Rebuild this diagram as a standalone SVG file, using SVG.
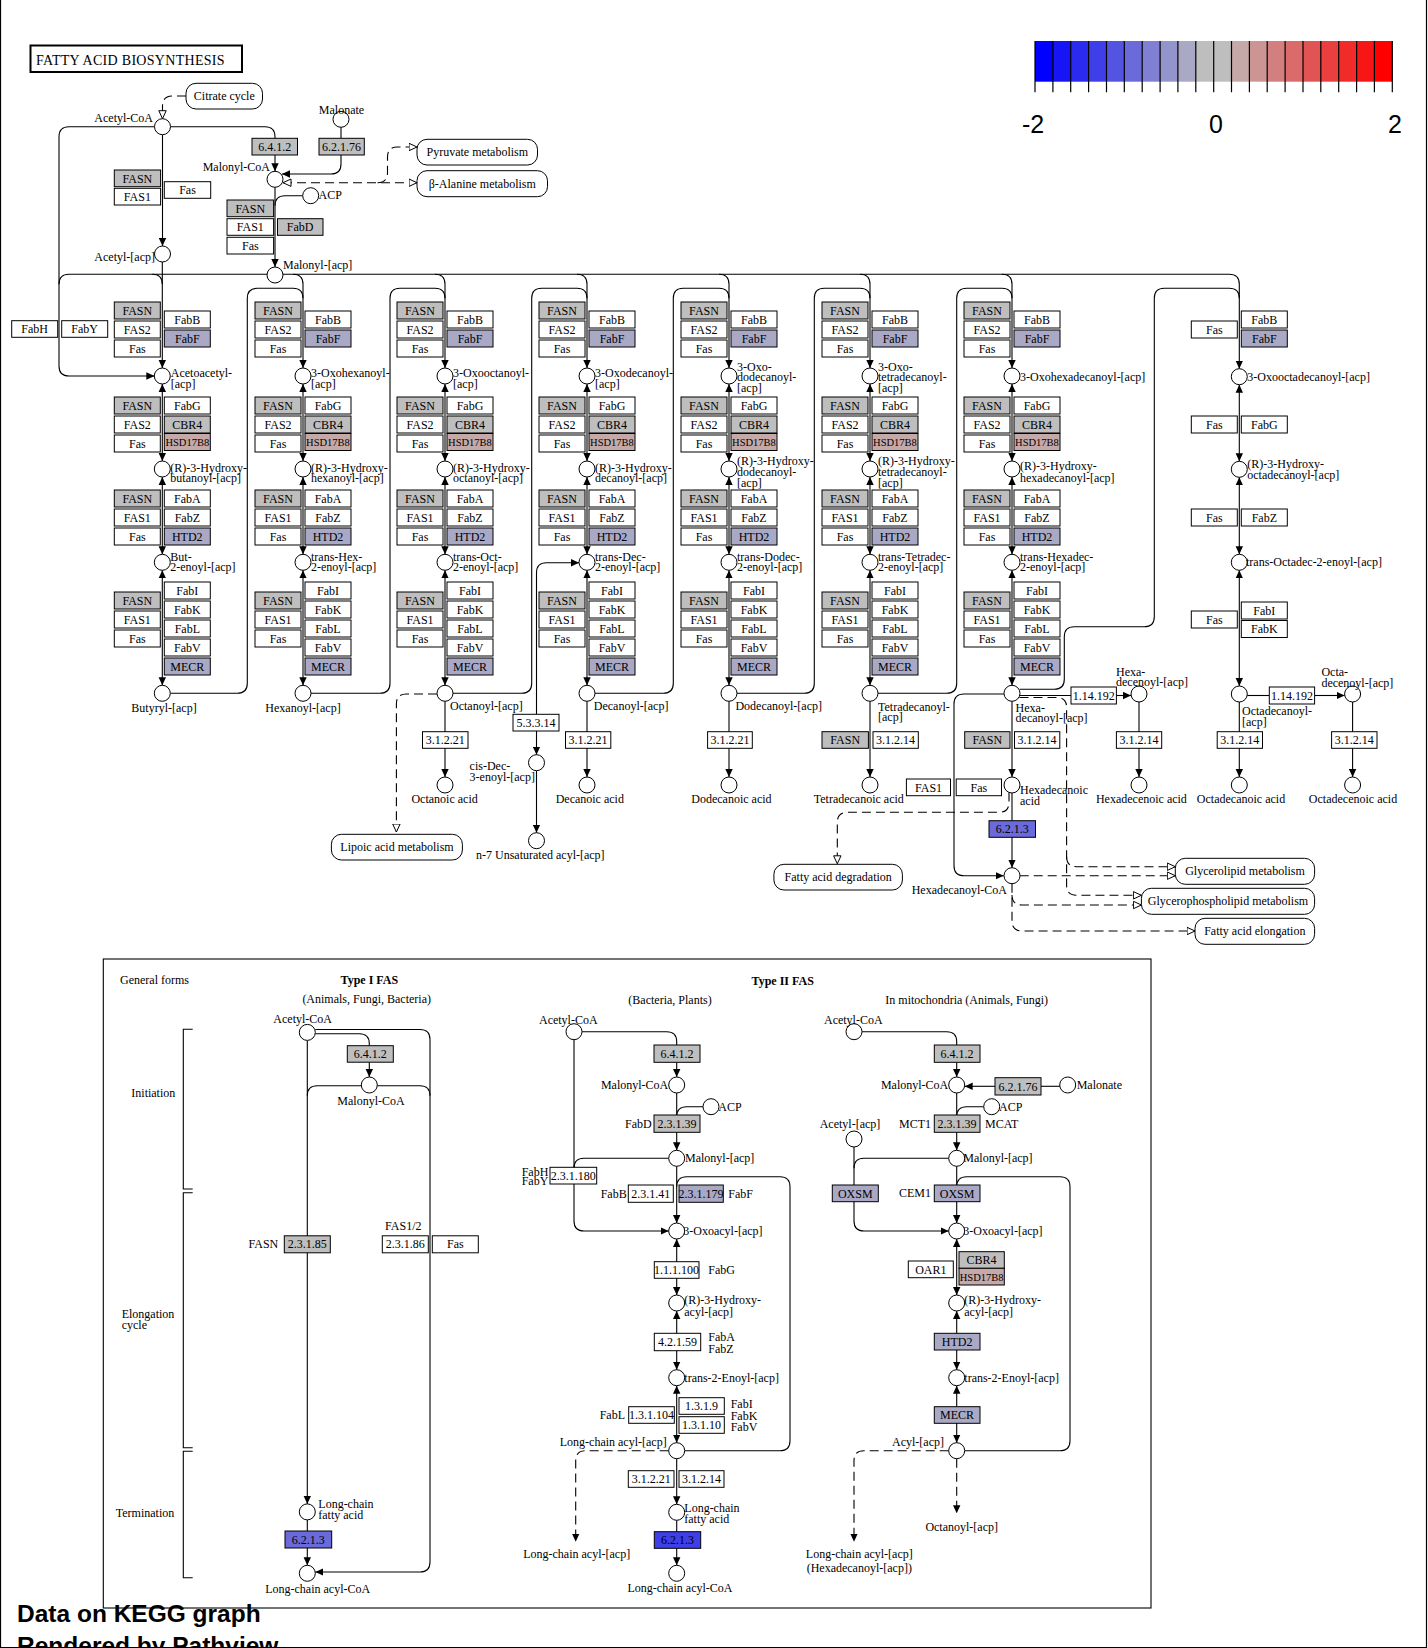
<svg xmlns="http://www.w3.org/2000/svg" width="1428" height="1648" viewBox="0 0 1428 1648">
<style>
.ln{fill:none;stroke:#000;stroke-width:1.1}
.ds{fill:none;stroke:#000;stroke-width:1.1;stroke-dasharray:9,5}
.cp{fill:#fff;stroke:#000;stroke-width:1}
.gw{fill:#fff;stroke:#000;stroke-width:1}
.gg{fill:#bebebe;stroke:#000;stroke-width:1}
.gl{fill:#a9a9c5;stroke:#000;stroke-width:1}
.gp{fill:#c5a9a9;stroke:#000;stroke-width:1}
.gb{fill:#6a6adb;stroke:#000;stroke-width:1}
.gB{fill:#3f3fe9;stroke:#000;stroke-width:1}
.mp{fill:#fff;stroke:#000;stroke-width:1}
text{font-family:"Liberation Serif","Times New Roman",serif;font-size:12px;fill:#000}
.m{text-anchor:middle}
.e{text-anchor:end}
.b{font-weight:bold}
.hs{font-size:10.5px}
.lg{font-family:"Liberation Sans",Arial,sans-serif;font-size:25px}
.ft{font-family:"Liberation Sans",Arial,sans-serif;font-size:24.5px;font-weight:bold}
</style>
<defs>
<marker id="ar" viewBox="0 0 8 8" refX="8" refY="4" markerWidth="8" markerHeight="8" markerUnits="userSpaceOnUse" orient="auto-start-reverse"><path d="M0,0.3 L8,4 L0,7.7z" fill="#000" stroke="none"/></marker>
<marker id="op" viewBox="0 0 9 9" refX="8.5" refY="4.5" markerWidth="9" markerHeight="9" markerUnits="userSpaceOnUse" orient="auto-start-reverse"><path d="M0.5,0.8 L8.5,4.5 L0.5,8.2z" fill="#fff" stroke="#000" stroke-width="1" stroke-dasharray="none"/></marker>
</defs>
<rect width="1428" height="1648" fill="#fff"/>
<path d="M0.5,0 V1647.5 H1426.5 V0" fill="none" stroke="#000" stroke-width="1.2"/>

<g id="legend">
<rect x="1035" y="41" width="18" height="40.7" fill="#0000FF"/>
<rect x="1052.9" y="41" width="18" height="40.7" fill="#1515F8"/>
<rect x="1070.7" y="41" width="18" height="40.7" fill="#2A2AF1"/>
<rect x="1088.6" y="41" width="18" height="40.7" fill="#3F3FE9"/>
<rect x="1106.5" y="41" width="18" height="40.7" fill="#5454E2"/>
<rect x="1124.3" y="41" width="18" height="40.7" fill="#6A6ADB"/>
<rect x="1142.2" y="41" width="18" height="40.7" fill="#7F7FD4"/>
<rect x="1160.1" y="41" width="18" height="40.7" fill="#9494CD"/>
<rect x="1177.9" y="41" width="18" height="40.7" fill="#A9A9C5"/>
<rect x="1195.8" y="41" width="18" height="40.7" fill="#BEBEBE"/>
<rect x="1213.7" y="41" width="18" height="40.7" fill="#BEBEBE"/>
<rect x="1231.5" y="41" width="18" height="40.7" fill="#C5A9A9"/>
<rect x="1249.4" y="41" width="18" height="40.7" fill="#CD9494"/>
<rect x="1267.2" y="41" width="18" height="40.7" fill="#D47F7F"/>
<rect x="1285.1" y="41" width="18" height="40.7" fill="#DB6A6A"/>
<rect x="1303" y="41" width="18" height="40.7" fill="#E25454"/>
<rect x="1320.8" y="41" width="18" height="40.7" fill="#E93F3F"/>
<rect x="1338.7" y="41" width="18" height="40.7" fill="#F12A2A"/>
<rect x="1356.6" y="41" width="18" height="40.7" fill="#F81515"/>
<rect x="1374.4" y="41" width="17.9" height="40.7" fill="#FF0000"/>
<path stroke="#000" stroke-width="1.2" d="M1035,41V92.3M1052.9,41V92.3M1070.7,41V92.3M1088.6,41V92.3M1106.5,41V92.3M1124.3,41V92.3M1142.2,41V92.3M1160.1,41V92.3M1177.9,41V92.3M1195.8,41V92.3M1213.7,41V92.3M1231.5,41V92.3M1249.4,41V92.3M1267.2,41V92.3M1285.1,41V92.3M1303,41V92.3M1320.8,41V92.3M1338.7,41V92.3M1356.6,41V92.3M1374.4,41V92.3M1392.3,41V92.3"/>
<text class="lg m" x="1033" y="133">-2</text>
<text class="lg m" x="1216" y="133">0</text>
<text class="lg m" x="1395" y="133">2</text>
</g>

<g id="title"><rect x="30.5" y="45.5" width="211.5" height="26.5" fill="#fff" stroke="#000" stroke-width="2"/><text x="36" y="64.5" style="font-size:14px;letter-spacing:0.3px">FATTY ACID BIOSYNTHESIS</text></g>

<g id="connectors">
<path class="ds" d="M186,96 H172.5 Q162.5,96 162.5,106 V118.7" marker-end="url(#op)"/>
<path class="ln" d="M162.5,134.7 V246" marker-end="url(#ar)"/>
<path class="ln" d="M154.5,126.7 H69 Q59,126.7 59,136.7 V366 Q59,376 69,376 H154.3" marker-end="url(#ar)"/>
<path class="ln" d="M170.5,126.7 H265 Q275,126.7 275,136.7 V138.3"/>
<path class="ln" d="M275,155 V171.3" marker-end="url(#ar)"/>
<path class="ln" d="M275,187.3 V267" marker-end="url(#ar)"/>
<path class="ln" d="M302.7,195.7 H285 Q275,195.7 275,205.7"/>
<path class="ln" d="M341,127.3 V138.3"/>
<path class="ln" d="M341,155 V164 Q341,174 331,174 H282" marker-end="url(#ar)"/>
<path class="ds" d="M283,182.7 H417" marker-start="url(#op)" marker-end="url(#op)"/>
<path class="ds" d="M377.5,182.7 Q387.5,182.7 387.5,172.7 V157 Q387.5,147 397.5,147 H417" marker-end="url(#op)"/>
<path class="ln" d="M59,284.3 Q59,274.3 69,274.3 H1229.3 Q1239.3,274.3 1239.3,284.3 V368.7" marker-end="url(#ar)"/>
<path class="ln" d="M162.3,262 V368" marker-end="url(#ar)"/>
<path class="ln" d="M152.3,274.3 Q162.3,274.3 162.3,284.3"/>
<path class="ln" d="M293,274.3 Q303,274.3 303,284.3 V368" marker-end="url(#ar)"/>
<path class="ln" d="M435,274.3 Q445,274.3 445,284.3 V368" marker-end="url(#ar)"/>
<path class="ln" d="M577,274.3 Q587,274.3 587,284.3 V368" marker-end="url(#ar)"/>
<path class="ln" d="M719,274.3 Q729,274.3 729,284.3 V368" marker-end="url(#ar)"/>
<path class="ln" d="M860,274.3 Q870,274.3 870,284.3 V368" marker-end="url(#ar)"/>
<path class="ln" d="M1002,274.3 Q1012,274.3 1012,284.3 V368" marker-end="url(#ar)"/>
<path class="ln" d="M162.3,384 V461" marker-start="url(#ar)" marker-end="url(#ar)"/>
<path class="ln" d="M162.3,477 V554.3" marker-start="url(#ar)" marker-end="url(#ar)"/>
<path class="ln" d="M162.3,570.3 V685.3" marker-start="url(#ar)" marker-end="url(#ar)"/>
<path class="ln" d="M303,384 V461" marker-start="url(#ar)" marker-end="url(#ar)"/>
<path class="ln" d="M303,477 V554.3" marker-start="url(#ar)" marker-end="url(#ar)"/>
<path class="ln" d="M303,570.3 V685.3" marker-start="url(#ar)" marker-end="url(#ar)"/>
<path class="ln" d="M445,384 V461" marker-start="url(#ar)" marker-end="url(#ar)"/>
<path class="ln" d="M445,477 V554.3" marker-start="url(#ar)" marker-end="url(#ar)"/>
<path class="ln" d="M445,570.3 V685.3" marker-start="url(#ar)" marker-end="url(#ar)"/>
<path class="ln" d="M587,384 V461" marker-start="url(#ar)" marker-end="url(#ar)"/>
<path class="ln" d="M587,477 V554.3" marker-start="url(#ar)" marker-end="url(#ar)"/>
<path class="ln" d="M587,570.3 V685.3" marker-start="url(#ar)" marker-end="url(#ar)"/>
<path class="ln" d="M729,384 V461" marker-start="url(#ar)" marker-end="url(#ar)"/>
<path class="ln" d="M729,477 V554.3" marker-start="url(#ar)" marker-end="url(#ar)"/>
<path class="ln" d="M729,570.3 V685.3" marker-start="url(#ar)" marker-end="url(#ar)"/>
<path class="ln" d="M870,384 V461" marker-start="url(#ar)" marker-end="url(#ar)"/>
<path class="ln" d="M870,477 V554.3" marker-start="url(#ar)" marker-end="url(#ar)"/>
<path class="ln" d="M870,570.3 V685.3" marker-start="url(#ar)" marker-end="url(#ar)"/>
<path class="ln" d="M1012,384 V461" marker-start="url(#ar)" marker-end="url(#ar)"/>
<path class="ln" d="M1012,477 V554.3" marker-start="url(#ar)" marker-end="url(#ar)"/>
<path class="ln" d="M1012,570.3 V685.3" marker-start="url(#ar)" marker-end="url(#ar)"/>
<path class="ln" d="M1239.3,384.7 V461.3" marker-start="url(#ar)" marker-end="url(#ar)"/>
<path class="ln" d="M1239.3,477.3 V554.3" marker-start="url(#ar)" marker-end="url(#ar)"/>
<path class="ln" d="M1239.3,570.3 V686" marker-start="url(#ar)" marker-end="url(#ar)"/>
<path class="ln" d="M170.3,693.3 H237.3 Q247.3,693.3 247.3,683.3 V298.3 Q247.3,288.3 257.3,288.3 H293 Q303,288.3 303,298.3"/>
<path class="ln" d="M311,693.3 H380 Q390,693.3 390,683.3 V298.3 Q390,288.3 400,288.3 H435 Q445,288.3 445,298.3"/>
<path class="ln" d="M453,693.3 H521.7 Q531.7,693.3 531.7,683.3 V298.3 Q531.7,288.3 541.7,288.3 H577 Q587,288.3 587,298.3"/>
<path class="ln" d="M595,693.3 H663.3 Q673.3,693.3 673.3,683.3 V298.3 Q673.3,288.3 683.3,288.3 H719 Q729,288.3 729,298.3"/>
<path class="ln" d="M737,693.3 H804.3 Q814.3,693.3 814.3,683.3 V298.3 Q814.3,288.3 824.3,288.3 H860 Q870,288.3 870,298.3"/>
<path class="ln" d="M878,693.3 H946.7 Q956.7,693.3 956.7,683.3 V298.3 Q956.7,288.3 966.7,288.3 H1002 Q1012,288.3 1012,298.3"/>
<path class="ln" d="M1019.7,689.3 H1054.3 Q1064.3,689.3 1064.3,679.3 V636.7 Q1064.3,626.7 1074.3,626.7 H1144.3 Q1154.3,626.7 1154.3,616.7 V298.3 Q1154.3,288.3 1164.3,288.3 H1229.3 Q1239.3,288.3 1239.3,298.3"/>
<path class="ds" d="M437,694 H406.4 Q396.4,694 396.4,704 V832" marker-end="url(#op)"/>
<path class="ln" d="M445,701.3 V777" marker-end="url(#ar)"/>
<path class="ln" d="M587,701.3 V777" marker-end="url(#ar)"/>
<path class="ln" d="M729,701.3 V777" marker-end="url(#ar)"/>
<path class="ln" d="M870,701.3 V777" marker-end="url(#ar)"/>
<path class="ln" d="M1012,701.3 V777" marker-end="url(#ar)"/>
<path class="ln" d="M1012,793 V867.7" marker-end="url(#ar)"/>
<path class="ln" d="M1004,694 H964 Q954,694 954,704 V865.7 Q954,875.7 964,875.7 H1003.7" marker-end="url(#ar)"/>
<path class="ln" d="M1020,695.5 H1071"/>
<path class="ln" d="M1116.4,695.5 H1131" marker-end="url(#ar)"/>
<path class="ln" d="M1139,702 V777" marker-end="url(#ar)"/>
<path class="ln" d="M1239.3,702 V777" marker-end="url(#ar)"/>
<path class="ln" d="M1247.3,695.5 H1269.3"/>
<path class="ln" d="M1314.6,695.5 H1344.6" marker-end="url(#ar)"/>
<path class="ln" d="M1352.6,702 V777" marker-end="url(#ar)"/>
<path class="ln" d="M536.5,714.3 V572.7 Q536.5,562.7 546.5,562.7 H579" marker-end="url(#ar)"/>
<path class="ln" d="M536.5,731 V754.7" marker-end="url(#ar)"/>
<path class="ln" d="M536.5,770.7 V832.7" marker-end="url(#ar)"/>
<path class="ds" d="M1019.5,697.5 H1056.6 Q1066.6,697.5 1066.6,707.5 V885.3 Q1066.6,895.3 1076.6,895.3 H1141.4" marker-end="url(#op)"/>
<path class="ds" d="M1066.6,856.7 Q1066.6,866.7 1076.6,866.7 H1175.3" marker-end="url(#op)"/>
<path class="ds" d="M1019.7,875.7 H1175.3" marker-end="url(#op)"/>
<path class="ds" d="M1012,883.7 V921 Q1012,931 1022,931 H1195" marker-end="url(#op)"/>
<path class="ds" d="M1012,895 Q1012,905 1022,905 H1141.4" marker-end="url(#op)"/>
<path class="ds" d="M1009,792.5 V802.3 Q1009,812.3 999,812.3 H847.3 Q837.3,812.3 837.3,822.3 V863.8" marker-end="url(#op)"/>

<path class="ln" d="M192.7,1029.3 H183.3 V1189 H192.7 M192.7,1192.7 H183.3 V1447.8 H192.7 M192.7,1451.3 H183.3 V1577.8 H192.7"/>
<path class="ln" d="M315.3,1029.5 H420 Q430,1029.5 430,1039.5 V1562 Q430,1572 420,1572 H315.3" marker-end="url(#ar)"/>
<path class="ln" d="M315.3,1033.7 H359.3 Q369.3,1033.7 369.3,1043.7 V1045.7"/>
<path class="ln" d="M369.3,1062.2 V1077" marker-end="url(#ar)"/>
<path class="ln" d="M361.3,1085.8 H317.3 Q307.3,1085.8 307.3,1095.8"/>
<path class="ln" d="M377.3,1085.8 H420 Q430,1085.8 430,1095.8"/>
<path class="ln" d="M307.3,1040.4 V1503.9" marker-end="url(#ar)"/>
<path class="ln" d="M307.3,1519.9 V1565.3" marker-end="url(#ar)"/>

<path class="ln" d="M582,1031.7 H666.7 Q676.7,1031.7 676.7,1041.7 V1045"/>
<path class="ln" d="M676.7,1062.3 V1077" marker-end="url(#ar)"/>
<path class="ln" d="M676.7,1093 V1115"/>
<path class="ln" d="M703,1106.7 H686.7 Q676.7,1106.7 676.7,1116.7"/>
<path class="ln" d="M676.7,1132.3 V1150.3" marker-end="url(#ar)"/>
<path class="ln" d="M668.7,1158.3 H584 Q574,1158.3 574,1168.3"/>
<path class="ln" d="M574,1039.7 V1221 Q574,1231 584,1231 H668.7" marker-end="url(#ar)"/>
<path class="ln" d="M676.7,1166.3 V1223" marker-end="url(#ar)"/>
<path class="ln" d="M684.7,1450.7 H780 Q790,1450.7 790,1440.7 V1186.7 Q790,1176.7 780,1176.7 H686.7 Q676.7,1176.7 676.7,1186.7"/>
<path class="ln" d="M676.7,1239 V1295" marker-start="url(#ar)" marker-end="url(#ar)"/>
<path class="ln" d="M676.7,1311 V1369.7" marker-start="url(#ar)" marker-end="url(#ar)"/>
<path class="ln" d="M676.7,1385.7 V1442.7" marker-start="url(#ar)" marker-end="url(#ar)"/>
<path class="ln" d="M676.7,1458.7 V1504.3" marker-end="url(#ar)"/>
<path class="ln" d="M676.7,1520.3 V1565.3" marker-end="url(#ar)"/>
<path class="ds" d="M668.7,1450.7 H585.7 Q575.7,1450.7 575.7,1460.7 V1541.7" marker-end="url(#ar)"/>

<path class="ln" d="M862,1031.7 H946.7 Q956.7,1031.7 956.7,1041.7 V1045"/>
<path class="ln" d="M956.7,1062.3 V1077" marker-end="url(#ar)"/>
<path class="ln" d="M995,1086.3 H964.7" marker-end="url(#ar)"/>
<path class="ln" d="M1041,1086.3 H1059.7"/>
<path class="ln" d="M956.7,1093 V1115"/>
<path class="ln" d="M983.7,1106.7 H966.7 Q956.7,1106.7 956.7,1116.7"/>
<path class="ln" d="M956.7,1132.3 V1150.3" marker-end="url(#ar)"/>
<path class="ln" d="M948.7,1158.3 H864 Q854,1158.3 854,1168.3"/>
<path class="ln" d="M854,1147 V1221 Q854,1231 864,1231 H948.7" marker-end="url(#ar)"/>
<path class="ln" d="M956.7,1166.3 V1223" marker-end="url(#ar)"/>
<path class="ln" d="M964.7,1450.7 H1060 Q1070,1450.7 1070,1440.7 V1186.7 Q1070,1176.7 1060,1176.7 H966.7 Q956.7,1176.7 956.7,1186.7"/>
<path class="ln" d="M956.7,1239 V1295" marker-start="url(#ar)" marker-end="url(#ar)"/>
<path class="ln" d="M956.7,1311 V1369.7" marker-start="url(#ar)" marker-end="url(#ar)"/>
<path class="ln" d="M956.7,1385.7 V1442.7" marker-start="url(#ar)" marker-end="url(#ar)"/>
<path class="ds" d="M948.7,1450.7 H864 Q854,1450.7 854,1460.7 V1541.7" marker-end="url(#ar)"/>
<path class="ds" d="M956.7,1458.7 V1513.3" marker-end="url(#ar)"/>
</g>

<g id="maps">
<g id="map-citrate"><rect class="mp" x="186" y="83.3" width="76.5" height="25.7" rx="10"/><text class="m" x="224.3" y="100">Citrate cycle</text></g>
<g id="map-pyruvate"><rect class="mp" x="417" y="139.3" width="120.5" height="25.7" rx="10"/><text class="m" x="477.3" y="156.2">Pyruvate metabolism</text></g>
<g id="map-alanine"><rect class="mp" x="417" y="170.7" width="130.5" height="26" rx="10"/><text class="m" x="482.3" y="187.7">β-Alanine metabolism</text></g>
<g id="map-lipoic"><rect class="mp" x="331.4" y="834.3" width="131" height="25.7" rx="10"/><text class="m" x="397" y="851.2">Lipoic acid metabolism</text></g>
<g id="map-degradation"><rect class="mp" x="773.9" y="864.3" width="128.5" height="25.7" rx="10"/><text class="m" x="838.2" y="881.2">Fatty acid degradation</text></g>
<g id="map-glycerolipid"><rect class="mp" x="1175.3" y="858.3" width="139.3" height="26" rx="10"/><text class="m" x="1245" y="875.3">Glycerolipid metabolism</text></g>
<g id="map-glycerophospholipid"><rect class="mp" x="1141.4" y="888.3" width="173.2" height="26" rx="10"/><text class="m" x="1228" y="905.3">Glycerophospholipid metabolism</text></g>
<g id="map-elongation"><rect class="mp" x="1195" y="918.3" width="119.6" height="26" rx="10"/><text class="m" x="1254.8" y="935.3">Fatty acid elongation</text></g>
</g>

<g id="top-nodes">
<g id="cpd-acetylcoa"><circle class="cp" cx="162.5" cy="126.7" r="8"/><text class="e" x="153" y="121.7">Acetyl-CoA</text></g>
<g id="cpd-malonate"><circle class="cp" cx="341" cy="119.3" r="8"/><text class="m" x="341.5" y="114">Malonate</text></g>
<g id="cpd-malonylcoa"><circle class="cp" cx="275" cy="179.3" r="8"/><text class="e" x="270" y="171.3">Malonyl-CoA</text></g>
<g id="cpd-acp"><circle class="cp" cx="310.7" cy="195.7" r="8"/><text x="318.5" y="198.5">ACP</text></g>
<g id="cpd-acetylacp"><circle class="cp" cx="162.5" cy="254" r="8"/><text class="e" x="155" y="260.7">Acetyl-[acp]</text></g>
<g id="cpd-malonylacp"><circle class="cp" cx="275" cy="275" r="8"/><text x="283" y="269">Malonyl-[acp]</text></g>
<g id="g-6412"><rect class="gg" x="252" y="138.3" width="45.5" height="16.7"/><text class="m" x="274.7" y="150.8">6.4.1.2</text></g>
<g id="g-62176"><rect class="gg" x="319" y="138.3" width="45.3" height="16.7"/><text class="m" x="341.6" y="150.8">6.2.1.76</text></g>
<g id="g-t-fasn1"><rect class="gg" x="114.3" y="170" width="46.3" height="16.7"/><text class="m" x="137.4" y="182.5">FASN</text></g>
<g id="g-t-fas1a"><rect class="gw" x="114.3" y="188.3" width="46.3" height="16.7"/><text class="m" x="137.4" y="200.8">FAS1</text></g>
<g id="g-t-fasa"><rect class="gw" x="164.3" y="181.7" width="46.4" height="16.6"/><text class="m" x="187.5" y="194.2">Fas</text></g>
<g id="g-t-fasn2"><rect class="gg" x="227" y="200" width="46.6" height="16.7"/><text class="m" x="250.3" y="212.5">FASN</text></g>
<g id="g-t-fas1b"><rect class="gw" x="227" y="218.7" width="46.6" height="16.6"/><text class="m" x="250.3" y="231.2">FAS1</text></g>
<g id="g-t-fasb"><rect class="gw" x="227" y="237.3" width="46.6" height="16.7"/><text class="m" x="250.3" y="249.8">Fas</text></g>
<g id="g-t-fabd"><rect class="gg" x="277.5" y="218.7" width="45.5" height="16.6"/><text class="m" x="300.2" y="231.2">FabD</text></g>
<g id="g-fabh"><rect class="gw" x="11.7" y="320.7" width="46" height="16.6"/><text class="m" x="34.7" y="333.2">FabH</text></g>
<g id="g-faby"><rect class="gw" x="61.7" y="320.7" width="46" height="16.6"/><text class="m" x="84.7" y="333.2">FabY</text></g>
</g>

<g id="col1" transform="translate(162.3,0)">
<g id="c1-a1"><rect class="gg" x="-48" y="302" width="46" height="17"/><text class="m" x="-25" y="314.5">FASN</text></g>
<g id="c1-a2"><rect class="gw" x="-48" y="321" width="46" height="17"/><text class="m" x="-25" y="333.5">FAS2</text></g>
<g id="c1-a3"><rect class="gw" x="-48" y="340" width="46" height="17"/><text class="m" x="-25" y="352.5">Fas</text></g>
<g id="c1-a4"><rect class="gw" x="2" y="311" width="46" height="17"/><text class="m" x="25" y="323.5">FabB</text></g>
<g id="c1-a5"><rect class="gl" x="2" y="330" width="46" height="17"/><text class="m" x="25" y="342.5">FabF</text></g>
<g id="c1-b1"><rect class="gg" x="-48" y="397" width="46" height="17"/><text class="m" x="-25" y="409.5">FASN</text></g>
<g id="c1-b2"><rect class="gw" x="-48" y="416" width="46" height="17"/><text class="m" x="-25" y="428.5">FAS2</text></g>
<g id="c1-b3"><rect class="gw" x="-48" y="435" width="46" height="17"/><text class="m" x="-25" y="447.5">Fas</text></g>
<g id="c1-b4"><rect class="gw" x="2" y="397" width="46" height="17"/><text class="m" x="25" y="409.5">FabG</text></g>
<g id="c1-b5"><rect class="gg" x="2" y="416" width="46" height="17"/><text class="m" x="25" y="428.5">CBR4</text></g>
<g id="c1-b6"><rect class="gp" x="2" y="433.5" width="46" height="17"/><text class="m hs" x="25" y="445.5">HSD17B8</text></g>
<g id="c1-c1"><rect class="gg" x="-48" y="490" width="46" height="17"/><text class="m" x="-25" y="502.5">FASN</text></g>
<g id="c1-c2"><rect class="gw" x="-48" y="509" width="46" height="17"/><text class="m" x="-25" y="521.5">FAS1</text></g>
<g id="c1-c3"><rect class="gw" x="-48" y="528" width="46" height="17"/><text class="m" x="-25" y="540.5">Fas</text></g>
<g id="c1-c4"><rect class="gw" x="2" y="490" width="46" height="17"/><text class="m" x="25" y="502.5">FabA</text></g>
<g id="c1-c5"><rect class="gw" x="2" y="509" width="46" height="17"/><text class="m" x="25" y="521.5">FabZ</text></g>
<g id="c1-c6"><rect class="gl" x="2" y="528" width="46" height="17"/><text class="m" x="25" y="540.5">HTD2</text></g>
<g id="c1-d1"><rect class="gg" x="-48" y="592" width="46" height="17"/><text class="m" x="-25" y="604.5">FASN</text></g>
<g id="c1-d2"><rect class="gw" x="-48" y="611" width="46" height="17"/><text class="m" x="-25" y="623.5">FAS1</text></g>
<g id="c1-d3"><rect class="gw" x="-48" y="630" width="46" height="17"/><text class="m" x="-25" y="642.5">Fas</text></g>
<g id="c1-d4"><rect class="gw" x="2" y="582" width="46" height="17"/><text class="m" x="25" y="594.5">FabI</text></g>
<g id="c1-d5"><rect class="gw" x="2" y="601" width="46" height="17"/><text class="m" x="25" y="613.5">FabK</text></g>
<g id="c1-d6"><rect class="gw" x="2" y="620" width="46" height="17"/><text class="m" x="25" y="632.5">FabL</text></g>
<g id="c1-d7"><rect class="gw" x="2" y="639" width="46" height="17"/><text class="m" x="25" y="651.5">FabV</text></g>
<g id="c1-d8"><rect class="gl" x="2" y="658" width="46" height="17"/><text class="m" x="25" y="670.5">MECR</text></g>
<g id="c1-k1"><circle class="cp" cx="0" cy="376" r="8"/><text x="8.5" y="377.3">Acetoacetyl-</text><text x="8.5" y="388.3">[acp]</text></g>
<g id="c1-k2"><circle class="cp" cx="0" cy="469" r="8"/><text x="8" y="471.7">(R)-3-Hydroxy-</text><text x="8" y="482.3">butanoyl-[acp]</text></g>
<g id="c1-k3"><circle class="cp" cx="0" cy="562.3" r="8"/><text x="8" y="560.7">But-</text><text x="8" y="571.3">2-enoyl-[acp]</text></g>
<g id="c1-k4"><circle class="cp" cx="0" cy="693.3" r="8"/><text class="m" x="1.7" y="712.3">Butyryl-[acp]</text></g>
</g>

<g id="col2" transform="translate(303,0)">
<g id="c2-a1"><rect class="gg" x="-48" y="302" width="46" height="17"/><text class="m" x="-25" y="314.5">FASN</text></g>
<g id="c2-a2"><rect class="gw" x="-48" y="321" width="46" height="17"/><text class="m" x="-25" y="333.5">FAS2</text></g>
<g id="c2-a3"><rect class="gw" x="-48" y="340" width="46" height="17"/><text class="m" x="-25" y="352.5">Fas</text></g>
<g id="c2-a4"><rect class="gw" x="2" y="311" width="46" height="17"/><text class="m" x="25" y="323.5">FabB</text></g>
<g id="c2-a5"><rect class="gl" x="2" y="330" width="46" height="17"/><text class="m" x="25" y="342.5">FabF</text></g>
<g id="c2-b1"><rect class="gg" x="-48" y="397" width="46" height="17"/><text class="m" x="-25" y="409.5">FASN</text></g>
<g id="c2-b2"><rect class="gw" x="-48" y="416" width="46" height="17"/><text class="m" x="-25" y="428.5">FAS2</text></g>
<g id="c2-b3"><rect class="gw" x="-48" y="435" width="46" height="17"/><text class="m" x="-25" y="447.5">Fas</text></g>
<g id="c2-b4"><rect class="gw" x="2" y="397" width="46" height="17"/><text class="m" x="25" y="409.5">FabG</text></g>
<g id="c2-b5"><rect class="gg" x="2" y="416" width="46" height="17"/><text class="m" x="25" y="428.5">CBR4</text></g>
<g id="c2-b6"><rect class="gp" x="2" y="433.5" width="46" height="17"/><text class="m hs" x="25" y="445.5">HSD17B8</text></g>
<g id="c2-c1"><rect class="gg" x="-48" y="490" width="46" height="17"/><text class="m" x="-25" y="502.5">FASN</text></g>
<g id="c2-c2"><rect class="gw" x="-48" y="509" width="46" height="17"/><text class="m" x="-25" y="521.5">FAS1</text></g>
<g id="c2-c3"><rect class="gw" x="-48" y="528" width="46" height="17"/><text class="m" x="-25" y="540.5">Fas</text></g>
<g id="c2-c4"><rect class="gw" x="2" y="490" width="46" height="17"/><text class="m" x="25" y="502.5">FabA</text></g>
<g id="c2-c5"><rect class="gw" x="2" y="509" width="46" height="17"/><text class="m" x="25" y="521.5">FabZ</text></g>
<g id="c2-c6"><rect class="gl" x="2" y="528" width="46" height="17"/><text class="m" x="25" y="540.5">HTD2</text></g>
<g id="c2-d1"><rect class="gg" x="-48" y="592" width="46" height="17"/><text class="m" x="-25" y="604.5">FASN</text></g>
<g id="c2-d2"><rect class="gw" x="-48" y="611" width="46" height="17"/><text class="m" x="-25" y="623.5">FAS1</text></g>
<g id="c2-d3"><rect class="gw" x="-48" y="630" width="46" height="17"/><text class="m" x="-25" y="642.5">Fas</text></g>
<g id="c2-d4"><rect class="gw" x="2" y="582" width="46" height="17"/><text class="m" x="25" y="594.5">FabI</text></g>
<g id="c2-d5"><rect class="gw" x="2" y="601" width="46" height="17"/><text class="m" x="25" y="613.5">FabK</text></g>
<g id="c2-d6"><rect class="gw" x="2" y="620" width="46" height="17"/><text class="m" x="25" y="632.5">FabL</text></g>
<g id="c2-d7"><rect class="gw" x="2" y="639" width="46" height="17"/><text class="m" x="25" y="651.5">FabV</text></g>
<g id="c2-d8"><rect class="gl" x="2" y="658" width="46" height="17"/><text class="m" x="25" y="670.5">MECR</text></g>
<g id="c2-k1"><circle class="cp" cx="0" cy="376" r="8"/><text x="8" y="377.3">3-Oxohexanoyl-</text><text x="8" y="388.3">[acp]</text></g>
<g id="c2-k2"><circle class="cp" cx="0" cy="469" r="8"/><text x="8" y="471.7">(R)-3-Hydroxy-</text><text x="8" y="482.3">hexanoyl-[acp]</text></g>
<g id="c2-k3"><circle class="cp" cx="0" cy="562.3" r="8"/><text x="8" y="560.7">trans-Hex-</text><text x="8" y="571.3">2-enoyl-[acp]</text></g>
<g id="c2-k4"><circle class="cp" cx="0" cy="693.3" r="8"/><text class="m" x="0" y="712.3">Hexanoyl-[acp]</text></g>
</g>

<g id="col3" transform="translate(445,0)">
<g id="c3-a1"><rect class="gg" x="-48" y="302" width="46" height="17"/><text class="m" x="-25" y="314.5">FASN</text></g>
<g id="c3-a2"><rect class="gw" x="-48" y="321" width="46" height="17"/><text class="m" x="-25" y="333.5">FAS2</text></g>
<g id="c3-a3"><rect class="gw" x="-48" y="340" width="46" height="17"/><text class="m" x="-25" y="352.5">Fas</text></g>
<g id="c3-a4"><rect class="gw" x="2" y="311" width="46" height="17"/><text class="m" x="25" y="323.5">FabB</text></g>
<g id="c3-a5"><rect class="gl" x="2" y="330" width="46" height="17"/><text class="m" x="25" y="342.5">FabF</text></g>
<g id="c3-b1"><rect class="gg" x="-48" y="397" width="46" height="17"/><text class="m" x="-25" y="409.5">FASN</text></g>
<g id="c3-b2"><rect class="gw" x="-48" y="416" width="46" height="17"/><text class="m" x="-25" y="428.5">FAS2</text></g>
<g id="c3-b3"><rect class="gw" x="-48" y="435" width="46" height="17"/><text class="m" x="-25" y="447.5">Fas</text></g>
<g id="c3-b4"><rect class="gw" x="2" y="397" width="46" height="17"/><text class="m" x="25" y="409.5">FabG</text></g>
<g id="c3-b5"><rect class="gg" x="2" y="416" width="46" height="17"/><text class="m" x="25" y="428.5">CBR4</text></g>
<g id="c3-b6"><rect class="gp" x="2" y="433.5" width="46" height="17"/><text class="m hs" x="25" y="445.5">HSD17B8</text></g>
<g id="c3-c1"><rect class="gg" x="-48" y="490" width="46" height="17"/><text class="m" x="-25" y="502.5">FASN</text></g>
<g id="c3-c2"><rect class="gw" x="-48" y="509" width="46" height="17"/><text class="m" x="-25" y="521.5">FAS1</text></g>
<g id="c3-c3"><rect class="gw" x="-48" y="528" width="46" height="17"/><text class="m" x="-25" y="540.5">Fas</text></g>
<g id="c3-c4"><rect class="gw" x="2" y="490" width="46" height="17"/><text class="m" x="25" y="502.5">FabA</text></g>
<g id="c3-c5"><rect class="gw" x="2" y="509" width="46" height="17"/><text class="m" x="25" y="521.5">FabZ</text></g>
<g id="c3-c6"><rect class="gl" x="2" y="528" width="46" height="17"/><text class="m" x="25" y="540.5">HTD2</text></g>
<g id="c3-d1"><rect class="gg" x="-48" y="592" width="46" height="17"/><text class="m" x="-25" y="604.5">FASN</text></g>
<g id="c3-d2"><rect class="gw" x="-48" y="611" width="46" height="17"/><text class="m" x="-25" y="623.5">FAS1</text></g>
<g id="c3-d3"><rect class="gw" x="-48" y="630" width="46" height="17"/><text class="m" x="-25" y="642.5">Fas</text></g>
<g id="c3-d4"><rect class="gw" x="2" y="582" width="46" height="17"/><text class="m" x="25" y="594.5">FabI</text></g>
<g id="c3-d5"><rect class="gw" x="2" y="601" width="46" height="17"/><text class="m" x="25" y="613.5">FabK</text></g>
<g id="c3-d6"><rect class="gw" x="2" y="620" width="46" height="17"/><text class="m" x="25" y="632.5">FabL</text></g>
<g id="c3-d7"><rect class="gw" x="2" y="639" width="46" height="17"/><text class="m" x="25" y="651.5">FabV</text></g>
<g id="c3-d8"><rect class="gl" x="2" y="658" width="46" height="17"/><text class="m" x="25" y="670.5">MECR</text></g>
<g id="c3-k1"><circle class="cp" cx="0" cy="376" r="8"/><text x="8" y="377.3">3-Oxooctanoyl-</text><text x="8" y="388.3">[acp]</text></g>
<g id="c3-k2"><circle class="cp" cx="0" cy="469" r="8"/><text x="8" y="471.7">(R)-3-Hydroxy-</text><text x="8" y="482.3">octanoyl-[acp]</text></g>
<g id="c3-k3"><circle class="cp" cx="0" cy="562.3" r="8"/><text x="8" y="560.7">trans-Oct-</text><text x="8" y="571.3">2-enoyl-[acp]</text></g>
<g id="c3-k4"><circle class="cp" cx="0" cy="693.3" r="8"/><text x="5" y="709.7">Octanoyl-[acp]</text></g>
</g>

<g id="col4" transform="translate(587,0)">
<g id="c4-a1"><rect class="gg" x="-48" y="302" width="46" height="17"/><text class="m" x="-25" y="314.5">FASN</text></g>
<g id="c4-a2"><rect class="gw" x="-48" y="321" width="46" height="17"/><text class="m" x="-25" y="333.5">FAS2</text></g>
<g id="c4-a3"><rect class="gw" x="-48" y="340" width="46" height="17"/><text class="m" x="-25" y="352.5">Fas</text></g>
<g id="c4-a4"><rect class="gw" x="2" y="311" width="46" height="17"/><text class="m" x="25" y="323.5">FabB</text></g>
<g id="c4-a5"><rect class="gl" x="2" y="330" width="46" height="17"/><text class="m" x="25" y="342.5">FabF</text></g>
<g id="c4-b1"><rect class="gg" x="-48" y="397" width="46" height="17"/><text class="m" x="-25" y="409.5">FASN</text></g>
<g id="c4-b2"><rect class="gw" x="-48" y="416" width="46" height="17"/><text class="m" x="-25" y="428.5">FAS2</text></g>
<g id="c4-b3"><rect class="gw" x="-48" y="435" width="46" height="17"/><text class="m" x="-25" y="447.5">Fas</text></g>
<g id="c4-b4"><rect class="gw" x="2" y="397" width="46" height="17"/><text class="m" x="25" y="409.5">FabG</text></g>
<g id="c4-b5"><rect class="gg" x="2" y="416" width="46" height="17"/><text class="m" x="25" y="428.5">CBR4</text></g>
<g id="c4-b6"><rect class="gp" x="2" y="433.5" width="46" height="17"/><text class="m hs" x="25" y="445.5">HSD17B8</text></g>
<g id="c4-c1"><rect class="gg" x="-48" y="490" width="46" height="17"/><text class="m" x="-25" y="502.5">FASN</text></g>
<g id="c4-c2"><rect class="gw" x="-48" y="509" width="46" height="17"/><text class="m" x="-25" y="521.5">FAS1</text></g>
<g id="c4-c3"><rect class="gw" x="-48" y="528" width="46" height="17"/><text class="m" x="-25" y="540.5">Fas</text></g>
<g id="c4-c4"><rect class="gw" x="2" y="490" width="46" height="17"/><text class="m" x="25" y="502.5">FabA</text></g>
<g id="c4-c5"><rect class="gw" x="2" y="509" width="46" height="17"/><text class="m" x="25" y="521.5">FabZ</text></g>
<g id="c4-c6"><rect class="gl" x="2" y="528" width="46" height="17"/><text class="m" x="25" y="540.5">HTD2</text></g>
<g id="c4-d1"><rect class="gg" x="-48" y="592" width="46" height="17"/><text class="m" x="-25" y="604.5">FASN</text></g>
<g id="c4-d2"><rect class="gw" x="-48" y="611" width="46" height="17"/><text class="m" x="-25" y="623.5">FAS1</text></g>
<g id="c4-d3"><rect class="gw" x="-48" y="630" width="46" height="17"/><text class="m" x="-25" y="642.5">Fas</text></g>
<g id="c4-d4"><rect class="gw" x="2" y="582" width="46" height="17"/><text class="m" x="25" y="594.5">FabI</text></g>
<g id="c4-d5"><rect class="gw" x="2" y="601" width="46" height="17"/><text class="m" x="25" y="613.5">FabK</text></g>
<g id="c4-d6"><rect class="gw" x="2" y="620" width="46" height="17"/><text class="m" x="25" y="632.5">FabL</text></g>
<g id="c4-d7"><rect class="gw" x="2" y="639" width="46" height="17"/><text class="m" x="25" y="651.5">FabV</text></g>
<g id="c4-d8"><rect class="gl" x="2" y="658" width="46" height="17"/><text class="m" x="25" y="670.5">MECR</text></g>
<g id="c4-k1"><circle class="cp" cx="0" cy="376" r="8"/><text x="8" y="377.3">3-Oxodecanoyl-</text><text x="8" y="388.3">[acp]</text></g>
<g id="c4-k2"><circle class="cp" cx="0" cy="469" r="8"/><text x="8" y="471.7">(R)-3-Hydroxy-</text><text x="8" y="482.3">decanoyl-[acp]</text></g>
<g id="c4-k3"><circle class="cp" cx="0" cy="562.3" r="8"/><text x="8" y="560.7">trans-Dec-</text><text x="8" y="571.3">2-enoyl-[acp]</text></g>
<g id="c4-k4"><circle class="cp" cx="0" cy="693.3" r="8"/><text x="6.8" y="709.7">Decanoyl-[acp]</text></g>
</g>

<g id="col5" transform="translate(729,0)">
<g id="c5-a1"><rect class="gg" x="-48" y="302" width="46" height="17"/><text class="m" x="-25" y="314.5">FASN</text></g>
<g id="c5-a2"><rect class="gw" x="-48" y="321" width="46" height="17"/><text class="m" x="-25" y="333.5">FAS2</text></g>
<g id="c5-a3"><rect class="gw" x="-48" y="340" width="46" height="17"/><text class="m" x="-25" y="352.5">Fas</text></g>
<g id="c5-a4"><rect class="gw" x="2" y="311" width="46" height="17"/><text class="m" x="25" y="323.5">FabB</text></g>
<g id="c5-a5"><rect class="gl" x="2" y="330" width="46" height="17"/><text class="m" x="25" y="342.5">FabF</text></g>
<g id="c5-b1"><rect class="gg" x="-48" y="397" width="46" height="17"/><text class="m" x="-25" y="409.5">FASN</text></g>
<g id="c5-b2"><rect class="gw" x="-48" y="416" width="46" height="17"/><text class="m" x="-25" y="428.5">FAS2</text></g>
<g id="c5-b3"><rect class="gw" x="-48" y="435" width="46" height="17"/><text class="m" x="-25" y="447.5">Fas</text></g>
<g id="c5-b4"><rect class="gw" x="2" y="397" width="46" height="17"/><text class="m" x="25" y="409.5">FabG</text></g>
<g id="c5-b5"><rect class="gg" x="2" y="416" width="46" height="17"/><text class="m" x="25" y="428.5">CBR4</text></g>
<g id="c5-b6"><rect class="gp" x="2" y="433.5" width="46" height="17"/><text class="m hs" x="25" y="445.5">HSD17B8</text></g>
<g id="c5-c1"><rect class="gg" x="-48" y="490" width="46" height="17"/><text class="m" x="-25" y="502.5">FASN</text></g>
<g id="c5-c2"><rect class="gw" x="-48" y="509" width="46" height="17"/><text class="m" x="-25" y="521.5">FAS1</text></g>
<g id="c5-c3"><rect class="gw" x="-48" y="528" width="46" height="17"/><text class="m" x="-25" y="540.5">Fas</text></g>
<g id="c5-c4"><rect class="gw" x="2" y="490" width="46" height="17"/><text class="m" x="25" y="502.5">FabA</text></g>
<g id="c5-c5"><rect class="gw" x="2" y="509" width="46" height="17"/><text class="m" x="25" y="521.5">FabZ</text></g>
<g id="c5-c6"><rect class="gl" x="2" y="528" width="46" height="17"/><text class="m" x="25" y="540.5">HTD2</text></g>
<g id="c5-d1"><rect class="gg" x="-48" y="592" width="46" height="17"/><text class="m" x="-25" y="604.5">FASN</text></g>
<g id="c5-d2"><rect class="gw" x="-48" y="611" width="46" height="17"/><text class="m" x="-25" y="623.5">FAS1</text></g>
<g id="c5-d3"><rect class="gw" x="-48" y="630" width="46" height="17"/><text class="m" x="-25" y="642.5">Fas</text></g>
<g id="c5-d4"><rect class="gw" x="2" y="582" width="46" height="17"/><text class="m" x="25" y="594.5">FabI</text></g>
<g id="c5-d5"><rect class="gw" x="2" y="601" width="46" height="17"/><text class="m" x="25" y="613.5">FabK</text></g>
<g id="c5-d6"><rect class="gw" x="2" y="620" width="46" height="17"/><text class="m" x="25" y="632.5">FabL</text></g>
<g id="c5-d7"><rect class="gw" x="2" y="639" width="46" height="17"/><text class="m" x="25" y="651.5">FabV</text></g>
<g id="c5-d8"><rect class="gl" x="2" y="658" width="46" height="17"/><text class="m" x="25" y="670.5">MECR</text></g>
<g id="c5-k1"><circle class="cp" cx="0" cy="376" r="8"/><text x="8" y="370.7">3-Oxo-</text><text x="8" y="381.3">dodecanoyl-</text><text x="8" y="392.3">[acp]</text></g>
<g id="c5-k2"><circle class="cp" cx="0" cy="469" r="8"/><text x="8" y="465">(R)-3-Hydroxy-</text><text x="8" y="476">dodecanoyl-</text><text x="8" y="487">[acp]</text></g>
<g id="c5-k3"><circle class="cp" cx="0" cy="562.3" r="8"/><text x="8" y="560.7">trans-Dodec-</text><text x="8" y="571.3">2-enoyl-[acp]</text></g>
<g id="c5-k4"><circle class="cp" cx="0" cy="693.3" r="8"/><text x="6.4" y="709.7">Dodecanoyl-[acp]</text></g>
</g>

<g id="col6" transform="translate(870,0)">
<g id="c6-a1"><rect class="gg" x="-48" y="302" width="46" height="17"/><text class="m" x="-25" y="314.5">FASN</text></g>
<g id="c6-a2"><rect class="gw" x="-48" y="321" width="46" height="17"/><text class="m" x="-25" y="333.5">FAS2</text></g>
<g id="c6-a3"><rect class="gw" x="-48" y="340" width="46" height="17"/><text class="m" x="-25" y="352.5">Fas</text></g>
<g id="c6-a4"><rect class="gw" x="2" y="311" width="46" height="17"/><text class="m" x="25" y="323.5">FabB</text></g>
<g id="c6-a5"><rect class="gl" x="2" y="330" width="46" height="17"/><text class="m" x="25" y="342.5">FabF</text></g>
<g id="c6-b1"><rect class="gg" x="-48" y="397" width="46" height="17"/><text class="m" x="-25" y="409.5">FASN</text></g>
<g id="c6-b2"><rect class="gw" x="-48" y="416" width="46" height="17"/><text class="m" x="-25" y="428.5">FAS2</text></g>
<g id="c6-b3"><rect class="gw" x="-48" y="435" width="46" height="17"/><text class="m" x="-25" y="447.5">Fas</text></g>
<g id="c6-b4"><rect class="gw" x="2" y="397" width="46" height="17"/><text class="m" x="25" y="409.5">FabG</text></g>
<g id="c6-b5"><rect class="gg" x="2" y="416" width="46" height="17"/><text class="m" x="25" y="428.5">CBR4</text></g>
<g id="c6-b6"><rect class="gp" x="2" y="433.5" width="46" height="17"/><text class="m hs" x="25" y="445.5">HSD17B8</text></g>
<g id="c6-c1"><rect class="gg" x="-48" y="490" width="46" height="17"/><text class="m" x="-25" y="502.5">FASN</text></g>
<g id="c6-c2"><rect class="gw" x="-48" y="509" width="46" height="17"/><text class="m" x="-25" y="521.5">FAS1</text></g>
<g id="c6-c3"><rect class="gw" x="-48" y="528" width="46" height="17"/><text class="m" x="-25" y="540.5">Fas</text></g>
<g id="c6-c4"><rect class="gw" x="2" y="490" width="46" height="17"/><text class="m" x="25" y="502.5">FabA</text></g>
<g id="c6-c5"><rect class="gw" x="2" y="509" width="46" height="17"/><text class="m" x="25" y="521.5">FabZ</text></g>
<g id="c6-c6"><rect class="gl" x="2" y="528" width="46" height="17"/><text class="m" x="25" y="540.5">HTD2</text></g>
<g id="c6-d1"><rect class="gg" x="-48" y="592" width="46" height="17"/><text class="m" x="-25" y="604.5">FASN</text></g>
<g id="c6-d2"><rect class="gw" x="-48" y="611" width="46" height="17"/><text class="m" x="-25" y="623.5">FAS1</text></g>
<g id="c6-d3"><rect class="gw" x="-48" y="630" width="46" height="17"/><text class="m" x="-25" y="642.5">Fas</text></g>
<g id="c6-d4"><rect class="gw" x="2" y="582" width="46" height="17"/><text class="m" x="25" y="594.5">FabI</text></g>
<g id="c6-d5"><rect class="gw" x="2" y="601" width="46" height="17"/><text class="m" x="25" y="613.5">FabK</text></g>
<g id="c6-d6"><rect class="gw" x="2" y="620" width="46" height="17"/><text class="m" x="25" y="632.5">FabL</text></g>
<g id="c6-d7"><rect class="gw" x="2" y="639" width="46" height="17"/><text class="m" x="25" y="651.5">FabV</text></g>
<g id="c6-d8"><rect class="gl" x="2" y="658" width="46" height="17"/><text class="m" x="25" y="670.5">MECR</text></g>
<g id="c6-k1"><circle class="cp" cx="0" cy="376" r="8"/><text x="8" y="370.7">3-Oxo-</text><text x="8" y="381.3">tetradecanoyl-</text><text x="8" y="392.3">[acp]</text></g>
<g id="c6-k2"><circle class="cp" cx="0" cy="469" r="8"/><text x="8" y="465">(R)-3-Hydroxy-</text><text x="8" y="476">tetradecanoyl-</text><text x="8" y="487">[acp]</text></g>
<g id="c6-k3"><circle class="cp" cx="0" cy="562.3" r="8"/><text x="8" y="560.7">trans-Tetradec-</text><text x="8" y="571.3">2-enoyl-[acp]</text></g>
<g id="c6-k4"><circle class="cp" cx="0" cy="693.3" r="8"/><text x="8" y="710.7">Tetradecanoyl-</text><text x="8" y="721.3">[acp]</text></g>
</g>

<g id="col7" transform="translate(1012,0)">
<g id="c7-a1"><rect class="gg" x="-48" y="302" width="46" height="17"/><text class="m" x="-25" y="314.5">FASN</text></g>
<g id="c7-a2"><rect class="gw" x="-48" y="321" width="46" height="17"/><text class="m" x="-25" y="333.5">FAS2</text></g>
<g id="c7-a3"><rect class="gw" x="-48" y="340" width="46" height="17"/><text class="m" x="-25" y="352.5">Fas</text></g>
<g id="c7-a4"><rect class="gw" x="2" y="311" width="46" height="17"/><text class="m" x="25" y="323.5">FabB</text></g>
<g id="c7-a5"><rect class="gl" x="2" y="330" width="46" height="17"/><text class="m" x="25" y="342.5">FabF</text></g>
<g id="c7-b1"><rect class="gg" x="-48" y="397" width="46" height="17"/><text class="m" x="-25" y="409.5">FASN</text></g>
<g id="c7-b2"><rect class="gw" x="-48" y="416" width="46" height="17"/><text class="m" x="-25" y="428.5">FAS2</text></g>
<g id="c7-b3"><rect class="gw" x="-48" y="435" width="46" height="17"/><text class="m" x="-25" y="447.5">Fas</text></g>
<g id="c7-b4"><rect class="gw" x="2" y="397" width="46" height="17"/><text class="m" x="25" y="409.5">FabG</text></g>
<g id="c7-b5"><rect class="gg" x="2" y="416" width="46" height="17"/><text class="m" x="25" y="428.5">CBR4</text></g>
<g id="c7-b6"><rect class="gp" x="2" y="433.5" width="46" height="17"/><text class="m hs" x="25" y="445.5">HSD17B8</text></g>
<g id="c7-c1"><rect class="gg" x="-48" y="490" width="46" height="17"/><text class="m" x="-25" y="502.5">FASN</text></g>
<g id="c7-c2"><rect class="gw" x="-48" y="509" width="46" height="17"/><text class="m" x="-25" y="521.5">FAS1</text></g>
<g id="c7-c3"><rect class="gw" x="-48" y="528" width="46" height="17"/><text class="m" x="-25" y="540.5">Fas</text></g>
<g id="c7-c4"><rect class="gw" x="2" y="490" width="46" height="17"/><text class="m" x="25" y="502.5">FabA</text></g>
<g id="c7-c5"><rect class="gw" x="2" y="509" width="46" height="17"/><text class="m" x="25" y="521.5">FabZ</text></g>
<g id="c7-c6"><rect class="gl" x="2" y="528" width="46" height="17"/><text class="m" x="25" y="540.5">HTD2</text></g>
<g id="c7-d1"><rect class="gg" x="-48" y="592" width="46" height="17"/><text class="m" x="-25" y="604.5">FASN</text></g>
<g id="c7-d2"><rect class="gw" x="-48" y="611" width="46" height="17"/><text class="m" x="-25" y="623.5">FAS1</text></g>
<g id="c7-d3"><rect class="gw" x="-48" y="630" width="46" height="17"/><text class="m" x="-25" y="642.5">Fas</text></g>
<g id="c7-d4"><rect class="gw" x="2" y="582" width="46" height="17"/><text class="m" x="25" y="594.5">FabI</text></g>
<g id="c7-d5"><rect class="gw" x="2" y="601" width="46" height="17"/><text class="m" x="25" y="613.5">FabK</text></g>
<g id="c7-d6"><rect class="gw" x="2" y="620" width="46" height="17"/><text class="m" x="25" y="632.5">FabL</text></g>
<g id="c7-d7"><rect class="gw" x="2" y="639" width="46" height="17"/><text class="m" x="25" y="651.5">FabV</text></g>
<g id="c7-d8"><rect class="gl" x="2" y="658" width="46" height="17"/><text class="m" x="25" y="670.5">MECR</text></g>
<g id="c7-k1"><circle class="cp" cx="0" cy="376" r="8"/><text x="8" y="381.3">3-Oxohexadecanoyl-[acp]</text></g>
<g id="c7-k2"><circle class="cp" cx="0" cy="469" r="8"/><text x="8" y="470">(R)-3-Hydroxy-</text><text x="8" y="481.7">hexadecanoyl-[acp]</text></g>
<g id="c7-k3"><circle class="cp" cx="0" cy="562.3" r="8"/><text x="8" y="560.7">trans-Hexadec-</text><text x="8" y="571.3">2-enoyl-[acp]</text></g>
<g id="c7-k4"><circle class="cp" cx="0" cy="693.3" r="8"/><text x="3.6" y="711.7">Hexa-</text><text x="3.6" y="722.3">decanoyl-[acp]</text></g>
</g>

<g id="col8">
<g id="c8-a1"><rect class="gw" x="1191.3" y="321" width="46" height="17"/><text class="m" x="1214.3" y="333.5">Fas</text></g>
<g id="c8-a2"><rect class="gw" x="1241.3" y="311" width="46" height="17"/><text class="m" x="1264.3" y="323.5">FabB</text></g>
<g id="c8-a3"><rect class="gl" x="1241.3" y="330" width="46" height="17"/><text class="m" x="1264.3" y="342.5">FabF</text></g>
<g id="c8-b1"><rect class="gw" x="1191.3" y="416" width="46" height="17"/><text class="m" x="1214.3" y="428.5">Fas</text></g>
<g id="c8-b2"><rect class="gw" x="1241.3" y="416" width="46" height="17"/><text class="m" x="1264.3" y="428.5">FabG</text></g>
<g id="c8-c1"><rect class="gw" x="1191.3" y="509" width="46" height="17"/><text class="m" x="1214.3" y="521.5">Fas</text></g>
<g id="c8-c2"><rect class="gw" x="1241.3" y="509" width="46" height="17"/><text class="m" x="1264.3" y="521.5">FabZ</text></g>
<g id="c8-d1"><rect class="gw" x="1191.3" y="611" width="46" height="17"/><text class="m" x="1214.3" y="623.5">Fas</text></g>
<g id="c8-d2"><rect class="gw" x="1241.3" y="602" width="46" height="17"/><text class="m" x="1264.3" y="614.5">FabI</text></g>
<g id="c8-d3"><rect class="gw" x="1241.3" y="620.5" width="46" height="17"/><text class="m" x="1264.3" y="633">FabK</text></g>
<g id="c8-k1"><circle class="cp" cx="1239.3" cy="376.7" r="8"/><text x="1247.3" y="381.3">3-Oxooctadecanoyl-[acp]</text></g>
<g id="c8-k2"><circle class="cp" cx="1239.3" cy="469.3" r="8"/><text x="1247.3" y="468">(R)-3-Hydroxy-</text><text x="1247.3" y="479">octadecanoyl-[acp]</text></g>
<g id="c8-k3"><circle class="cp" cx="1239.3" cy="562.3" r="8"/><text x="1246" y="566.3">trans-Octadec-2-enoyl-[acp]</text></g>
<g id="c8-k4"><circle class="cp" cx="1239.3" cy="694" r="8"/><text x="1242" y="714.7">Octadecanoyl-</text><text x="1242" y="725.7">[acp]</text></g>
</g>

<g id="bottom-top-nodes">
<g id="g-31221-a"><rect class="gw" x="422.5" y="731.7" width="45.5" height="16.6"/><text class="m" x="445.2" y="744.2">3.1.2.21</text></g>
<g id="g-31221-b"><rect class="gw" x="565.5" y="731.7" width="45.3" height="16.6"/><text class="m" x="588.1" y="744.2">3.1.2.21</text></g>
<g id="g-31221-c"><rect class="gw" x="707.6" y="731.7" width="44.7" height="16.6"/><text class="m" x="730" y="744.2">3.1.2.21</text></g>
<g id="g-fasn-e"><rect class="gg" x="822" y="731.7" width="46.4" height="16.6"/><text class="m" x="845.2" y="744.2">FASN</text></g>
<g id="g-31214-a"><rect class="gw" x="873" y="731.7" width="45.3" height="16.6"/><text class="m" x="895.6" y="744.2">3.1.2.14</text></g>
<g id="g-fasn-f"><rect class="gg" x="964.7" y="731.7" width="45.3" height="16.6"/><text class="m" x="987.3" y="744.2">FASN</text></g>
<g id="g-31214-b"><rect class="gw" x="1014.5" y="731.7" width="45.3" height="16.6"/><text class="m" x="1037.1" y="744.2">3.1.2.14</text></g>
<g id="g-31214-c"><rect class="gw" x="1116.4" y="731.7" width="45.3" height="16.6"/><text class="m" x="1139" y="744.2">3.1.2.14</text></g>
<g id="g-31214-d"><rect class="gw" x="1217.2" y="731.7" width="45.3" height="16.6"/><text class="m" x="1239.8" y="744.2">3.1.2.14</text></g>
<g id="g-31214-e"><rect class="gw" x="1331.6" y="731.7" width="45.4" height="16.6"/><text class="m" x="1354.3" y="744.2">3.1.2.14</text></g>
<g id="g-114192-a"><rect class="gw" x="1071" y="687" width="45.4" height="17"/><text class="m" x="1093.7" y="699.5">1.14.192</text></g>
<g id="g-114192-b"><rect class="gw" x="1269.3" y="687" width="45.3" height="17"/><text class="m" x="1292" y="699.5">1.14.192</text></g>
<g id="g-53314"><rect class="gw" x="513" y="714.3" width="46" height="16.7"/><text class="m" x="536" y="726.8">5.3.3.14</text></g>
<g id="g-fas1-g"><rect class="gw" x="906.4" y="779" width="44.1" height="16.7"/><text class="m" x="928.5" y="791.5">FAS1</text></g>
<g id="g-fas-g"><rect class="gw" x="956.2" y="779" width="45.3" height="16.7"/><text class="m" x="978.8" y="791.5">Fas</text></g>
<g id="g-6213-a"><rect class="gb" x="989" y="820.7" width="46.5" height="16.6"/><text class="m" x="1012.2" y="833.2">6.2.1.3</text></g>
<g id="cpd-octanoic"><circle class="cp" cx="445" cy="785" r="8"/><text class="m" x="444.6" y="803">Octanoic acid</text></g>
<g id="cpd-decanoic"><circle class="cp" cx="587" cy="785" r="8"/><text class="m" x="589.8" y="803">Decanoic acid</text></g>
<g id="cpd-dodecanoic"><circle class="cp" cx="729" cy="785" r="8"/><text class="m" x="731.4" y="803">Dodecanoic acid</text></g>
<g id="cpd-tetradecanoic"><circle class="cp" cx="870" cy="785" r="8"/><text class="m" x="858.8" y="803">Tetradecanoic acid</text></g>
<g id="cpd-hexadecanoic"><circle class="cp" cx="1012" cy="785" r="8"/><text x="1020" y="794">Hexadecanoic</text><text x="1020" y="805">acid</text></g>
<g id="cpd-hexadecanoylcoa"><circle class="cp" cx="1012" cy="875.7" r="8"/><text class="e" x="1007" y="894">Hexadecanoyl-CoA</text></g>
<g id="cpd-hexadecenoyl"><circle class="cp" cx="1139" cy="694" r="8"/><text x="1116" y="675.7">Hexa-</text><text x="1116" y="686.3">decenoyl-[acp]</text></g>
<g id="cpd-hexadecenoic"><circle class="cp" cx="1139" cy="785" r="8"/><text class="m" x="1141.4" y="803">Hexadecenoic acid</text></g>
<g id="cpd-octadecanoic"><circle class="cp" cx="1239.3" cy="785" r="8"/><text class="m" x="1241" y="803">Octadecanoic acid</text></g>
<g id="cpd-octadecenoyl"><circle class="cp" cx="1352.6" cy="694" r="8"/><text x="1321.4" y="676.3">Octa-</text><text x="1321.4" y="687.3">decenoyl-[acp]</text></g>
<g id="cpd-octadecenoic"><circle class="cp" cx="1352.6" cy="785" r="8"/><text class="m" x="1353" y="803">Octadecenoic acid</text></g>
<g id="cpd-cisdec"><circle class="cp" cx="536.5" cy="762.7" r="8"/><text x="469.6" y="769.7">cis-Dec-</text><text x="469.6" y="780.7">3-enoyl-[acp]</text></g>
<g id="cpd-n7"><circle class="cp" cx="536.5" cy="840.7" r="8"/><text x="476" y="859">n-7 Unsaturated acyl-[acp]</text></g>
</g>

<g id="general-forms">
<rect x="103.3" y="959" width="1047.7" height="649" fill="none" stroke="#000" stroke-width="1.1"/>
<text x="120" y="983.8">General forms</text>
<text class="m" x="153.3" y="1097.4">Initiation</text>
<text x="121.7" y="1317.8">Elongation</text>
<text x="121.7" y="1328.9">cycle</text>
<text class="m" x="145" y="1517.2">Termination</text>
<text class="m b" x="369.3" y="983.8">Type I FAS</text>
<text class="m" x="366.7" y="1003">(Animals, Fungi, Bacteria)</text>
<text class="m b" x="782.7" y="984.7">Type II FAS</text>
<text class="m" x="670" y="1004">(Bacteria, Plants)</text>
<text class="m" x="966.7" y="1004">In mitochondria (Animals, Fungi)</text>
</g>

<g id="type1">
<g id="t1-acetylcoa"><circle class="cp" cx="307.3" cy="1032.4" r="8"/><text class="m" x="302.7" y="1023">Acetyl-CoA</text></g>
<g id="t1-6412"><rect class="gg" x="347.3" y="1045.7" width="46" height="16.5"/><text class="m" x="370.3" y="1058">6.4.1.2</text></g>
<g id="t1-malonylcoa"><circle class="cp" cx="369.3" cy="1085" r="8"/><text class="m" x="371" y="1105.4">Malonyl-CoA</text></g>
<g id="t1-23185"><rect class="gg" x="284.3" y="1235.8" width="46" height="17"/><text class="m" x="307.3" y="1248.3">2.3.1.85</text><text class="e" x="278.3" y="1247.9">FASN</text></g>
<g id="t1-23186"><rect class="gw" x="382.3" y="1235.8" width="46" height="17"/><text class="m" x="405.3" y="1248.3">2.3.1.86</text><text class="m" x="403.3" y="1230">FAS1/2</text></g>
<g id="t1-fas"><rect class="gw" x="432.3" y="1235.8" width="46" height="17"/><text class="m" x="455.3" y="1248.3">Fas</text></g>
<g id="t1-lcfa"><circle class="cp" cx="307.3" cy="1511.9" r="8"/><text x="318.3" y="1508.3">Long-chain</text><text x="318.3" y="1519.4">fatty acid</text></g>
<g id="t1-6213"><rect class="gb" x="285" y="1531" width="46.7" height="17"/><text class="m" x="308.3" y="1543.5">6.2.1.3</text></g>
<g id="t1-lcacoa"><circle class="cp" cx="307.3" cy="1573.3" r="8"/><text class="m" x="317.7" y="1593">Long-chain acyl-CoA</text></g>
</g>

<g id="type2">
<g id="t2-acetylcoa"><circle class="cp" cx="574" cy="1031.7" r="8"/><text class="m" x="568.3" y="1024">Acetyl-CoA</text></g>
<g id="t2-6412"><rect class="gg" x="654" y="1045" width="46" height="17.3"/><text class="m" x="677" y="1057.8">6.4.1.2</text></g>
<g id="t2-malonylcoa"><circle class="cp" cx="676.7" cy="1085" r="8"/><text class="e" x="668.3" y="1089">Malonyl-CoA</text></g>
<g id="t2-acp"><circle class="cp" cx="711" cy="1106.7" r="8"/><text x="718.3" y="1110.7">ACP</text></g>
<g id="t2-23139"><rect class="gg" x="654" y="1115" width="46" height="17.3"/><text class="m" x="677" y="1127.8">2.3.1.39</text><text class="e" x="651.7" y="1127.7">FabD</text></g>
<g id="t2-malonylacp"><circle class="cp" cx="676.7" cy="1158.3" r="8"/><text x="685" y="1162.3">Malonyl-[acp]</text></g>
<g id="t2-231180"><rect class="gw" x="550" y="1167.3" width="46.7" height="16.7"/><text class="m" x="573.3" y="1179.8">2.3.1.180</text><text class="e" x="548.3" y="1176.3">FabH</text><text class="e" x="548.3" y="1185">FabY</text></g>
<g id="t2-23141"><rect class="gw" x="628.3" y="1185" width="45" height="17.3"/><text class="m" x="650.8" y="1197.8">2.3.1.41</text><text class="e" x="626.7" y="1197.7">FabB</text></g>
<g id="t2-231179"><rect class="gl" x="679" y="1185" width="44.3" height="17.3"/><text class="m" x="701.1" y="1197.8">2.3.1.179</text><text x="728.3" y="1197.7">FabF</text></g>
<g id="t2-oxoacyl"><circle class="cp" cx="676.7" cy="1231" r="8"/><text x="683.3" y="1235">3-Oxoacyl-[acp]</text></g>
<g id="t2-111100"><rect class="gw" x="654.3" y="1261.7" width="44.7" height="16.6"/><text class="m" x="676.6" y="1274.2">1.1.1.100</text><text x="708.3" y="1274">FabG</text></g>
<g id="t2-hydroxy"><circle class="cp" cx="676.7" cy="1303" r="8"/><text x="684.3" y="1304">(R)-3-Hydroxy-</text><text x="684.3" y="1315.7">acyl-[acp]</text></g>
<g id="t2-42159"><rect class="gw" x="654.3" y="1333.3" width="46.4" height="17.4"/><text class="m" x="677.5" y="1346">4.2.1.59</text><text x="708.3" y="1341.3">FabA</text><text x="708.3" y="1353">FabZ</text></g>
<g id="t2-enoyl"><circle class="cp" cx="676.7" cy="1377.7" r="8"/><text x="684.3" y="1381.7">trans-2-Enoyl-[acp]</text></g>
<g id="t2-1319"><rect class="gw" x="679" y="1397.7" width="45.3" height="16.6"/><text class="m" x="701.6" y="1410.2">1.3.1.9</text></g>
<g id="t2-13110"><rect class="gw" x="679" y="1416.7" width="45.3" height="16.6"/><text class="m" x="701.6" y="1429.2">1.3.1.10</text><text x="730.7" y="1408">FabI</text><text x="730.7" y="1419.7">FabK</text><text x="730.7" y="1431.3">FabV</text></g>
<g id="t2-131104"><rect class="gw" x="628.7" y="1406.7" width="45.6" height="16.6"/><text class="m" x="651.5" y="1419.2">1.3.1.104</text><text class="e" x="625" y="1419">FabL</text></g>
<g id="t2-lcacp"><circle class="cp" cx="676.7" cy="1450.7" r="8"/><text class="e" x="666.7" y="1445.7">Long-chain acyl-[acp]</text></g>
<g id="t2-31221"><rect class="gw" x="628.3" y="1470.7" width="45.7" height="16.6"/><text class="m" x="651.2" y="1483.2">3.1.2.21</text></g>
<g id="t2-31214"><rect class="gw" x="679" y="1470.7" width="45" height="16.6"/><text class="m" x="701.5" y="1483.2">3.1.2.14</text></g>
<g id="t2-lcfa"><circle class="cp" cx="676.7" cy="1512.3" r="8"/><text x="684.3" y="1512.3">Long-chain</text><text x="684.3" y="1523">fatty acid</text></g>
<g id="t2-6213"><rect class="gB" x="654.3" y="1531.7" width="46.4" height="16.6"/><text class="m" x="677.5" y="1544.2">6.2.1.3</text></g>
<g id="t2-lcacoa"><circle class="cp" cx="676.7" cy="1573.3" r="8"/><text class="m" x="680" y="1592.3">Long-chain acyl-CoA</text></g>
<g id="t2-lcacp2"><text class="m" x="576.7" y="1558">Long-chain acyl-[acp]</text></g>
</g>

<g id="mito">
<g id="m-acetylcoa"><circle class="cp" cx="854" cy="1031.7" r="8"/><text class="m" x="853.3" y="1024">Acetyl-CoA</text></g>
<g id="m-6412"><rect class="gg" x="934.3" y="1045" width="45.7" height="17.3"/><text class="m" x="957.1" y="1057.8">6.4.1.2</text></g>
<g id="m-malonylcoa"><circle class="cp" cx="956.7" cy="1085" r="8"/><text class="e" x="948.3" y="1089">Malonyl-CoA</text></g>
<g id="m-62176"><rect class="gg" x="995" y="1077.7" width="46" height="17.3"/><text class="m" x="1018" y="1090.5">6.2.1.76</text></g>
<g id="m-malonate"><circle class="cp" cx="1067.7" cy="1085" r="8"/><text x="1076.7" y="1089">Malonate</text></g>
<g id="m-acp"><circle class="cp" cx="991.7" cy="1106.7" r="8"/><text x="999" y="1110.7">ACP</text></g>
<g id="m-23139"><rect class="gg" x="934.3" y="1115" width="45.7" height="17.3"/><text class="m" x="957.1" y="1127.8">2.3.1.39</text><text class="e" x="931" y="1127.7">MCT1</text><text x="985" y="1127.7">MCAT</text></g>
<g id="m-acetylacp"><circle class="cp" cx="854" cy="1139" r="8"/><text class="m" x="850" y="1128.3">Acetyl-[acp]</text></g>
<g id="m-malonylacp"><circle class="cp" cx="956.7" cy="1158.3" r="8"/><text x="963.3" y="1162.3">Malonyl-[acp]</text></g>
<g id="m-oxsm1"><rect class="gl" x="832.3" y="1185" width="46" height="16.7"/><text class="m" x="855.3" y="1197.5">OXSM</text></g>
<g id="m-oxsm2"><rect class="gl" x="934.3" y="1185" width="45.7" height="16.7"/><text class="m" x="957.1" y="1197.5">OXSM</text><text class="e" x="931" y="1197.3">CEM1</text></g>
<g id="m-oxoacyl"><circle class="cp" cx="956.7" cy="1231" r="8"/><text x="963.3" y="1235">3-Oxoacyl-[acp]</text></g>
<g id="m-cbr4"><rect class="gg" x="959" y="1251.7" width="45.3" height="16.6"/><text class="m" x="981.6" y="1264.2">CBR4</text></g>
<g id="m-hsd"><rect class="gp" x="959" y="1268.3" width="45.3" height="16.7"/><text class="m hs" x="981.6" y="1280.5">HSD17B8</text></g>
<g id="m-oar1"><rect class="gw" x="908.3" y="1261" width="45" height="16.7"/><text class="m" x="930.8" y="1273.5">OAR1</text></g>
<g id="m-hydroxy"><circle class="cp" cx="956.7" cy="1303" r="8"/><text x="964.3" y="1304">(R)-3-Hydroxy-</text><text x="964.3" y="1315.7">acyl-[acp]</text></g>
<g id="m-htd2"><rect class="gl" x="934.3" y="1333.3" width="45.7" height="16.7"/><text class="m" x="957.1" y="1345.8">HTD2</text></g>
<g id="m-enoyl"><circle class="cp" cx="956.7" cy="1377.7" r="8"/><text x="964.3" y="1381.7">trans-2-Enoyl-[acp]</text></g>
<g id="m-mecr"><rect class="gl" x="934.3" y="1406.7" width="45.7" height="16.6"/><text class="m" x="957.1" y="1419.2">MECR</text></g>
<g id="m-acylacp"><circle class="cp" cx="956.7" cy="1450.7" r="8"/><text class="e" x="944" y="1445.7">Acyl-[acp]</text></g>
<g id="m-lcacp"><text class="m" x="859.3" y="1558">Long-chain acyl-[acp]</text><text class="m" x="859.3" y="1572.3">(Hexadecanoyl-[acp])</text></g>
<g id="m-octanoyl"><text class="m" x="961.7" y="1530.7">Octanoyl-[acp]</text></g>
</g>

<g id="footer">
<text class="ft" x="17" y="1622.3">Data on KEGG graph</text>
<text class="ft" x="17" y="1653.5">Rendered by Pathview</text>
</g>
</svg>
